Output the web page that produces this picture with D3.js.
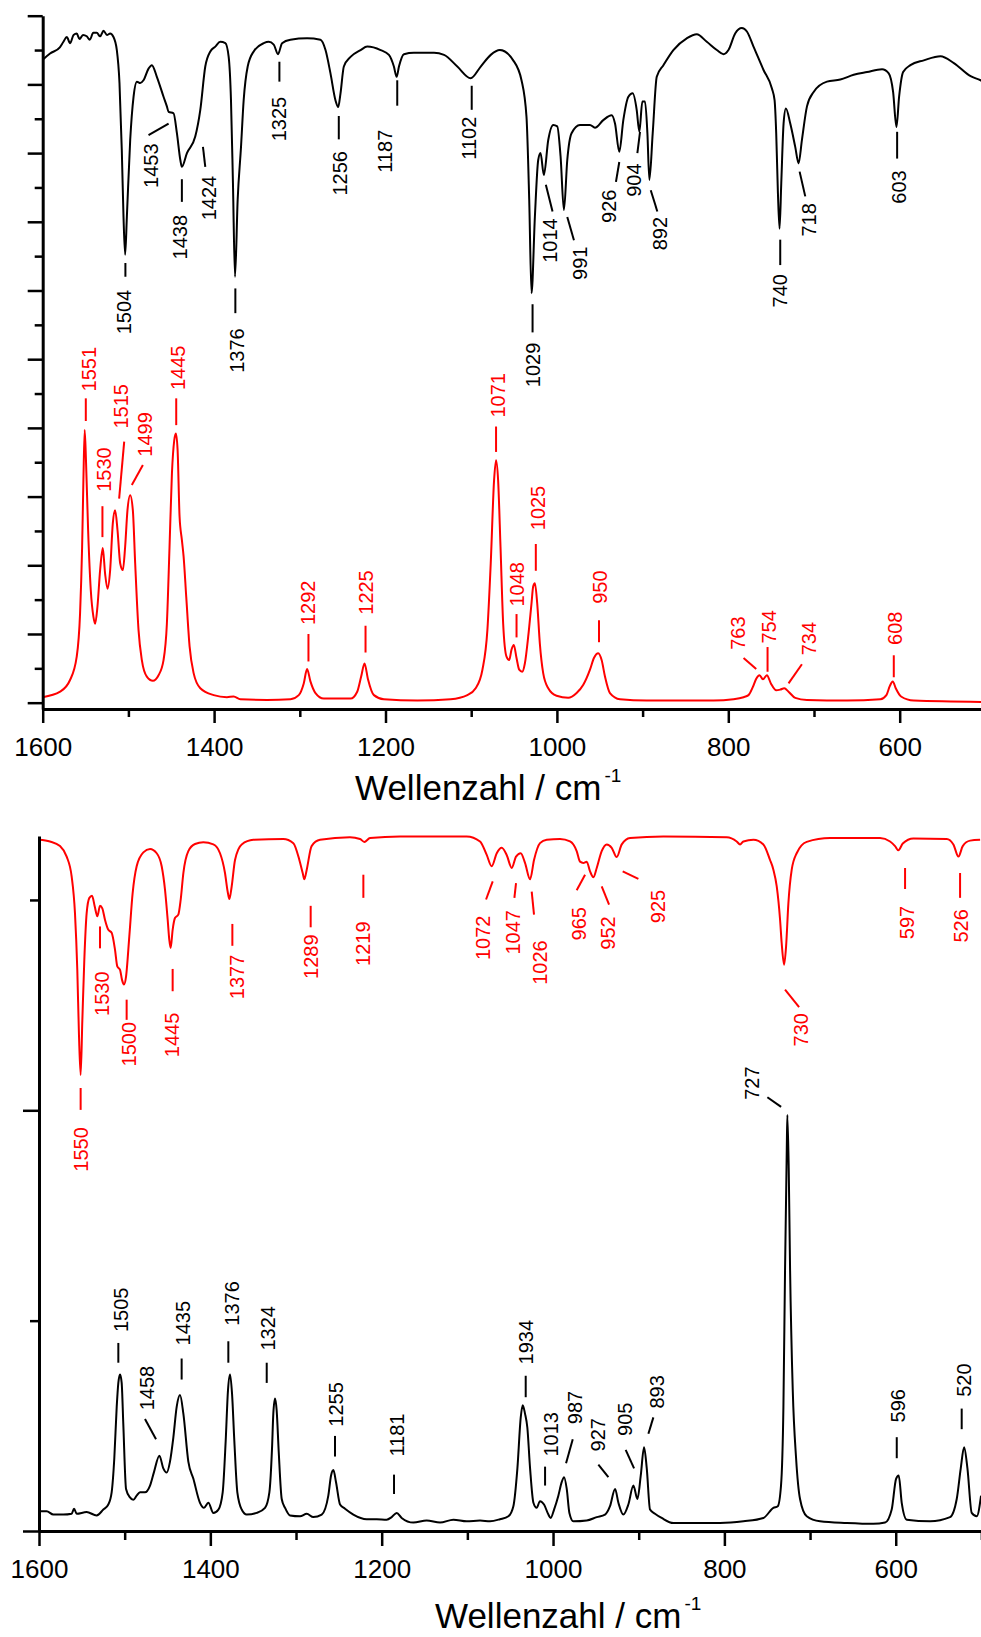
<!DOCTYPE html>
<html><head><meta charset="utf-8">
<script src="https://cdn.jsdelivr.net/npm/d3@7"></script>
<style>
html,body{margin:0;padding:0;background:#fff;}
svg{display:block;font-family:"Liberation Sans",Arial,Helvetica,sans-serif;}
</style></head><body>
<svg id="chart" width="981" height="1637"></svg>
<script>
// ---------------- DATA ----------------
const xTicksMajor = [1600, 1400, 1200, 1000, 800, 600];
const xTicksMinor = [1500, 1300, 1100, 900, 700, 500];
const xTitle = "Wellenzahl / cm";
const xTitleSup = "-1";
const topYMajor = [0,10,20,30,40,50,60,70,80,90,100];
const topYMinor = [5,15,25,35,45,55,65,75,85,95];
const botYMajor = [0,100];
const botYMinor = [50,150];

// top panel, experimental IR (black) [wavenumber, intensity]
const topIR = [[1600,93.6],[1591.4,94.5],[1580,95.4],[1575.8,96.2],[1571.9,96.9],[1568,96.0],[1564,97.2],[1560.3,97.4],[1557,96.6],[1553,97.2],[1548.6,97.0],[1545,96.5],[1541,97.5],[1536.9,97.5],[1533,97.0],[1529,97.8],[1525,97.2],[1521.3,97.4],[1517.4,96.9],[1513.5,95.0],[1510.4,90.2],[1507.7,80.4],[1505.7,70.7],[1503.8,65.2],[1501.8,70.7],[1497.9,81.9],[1494,88.2],[1490.1,90.4],[1486.2,90.2],[1482.4,90.6],[1476.5,92.3],[1472.6,92.8],[1466.8,91.1],[1459,88.2],[1455.1,86.8],[1453.1,86.0],[1447.3,85.8],[1443.4,82.9],[1439.4,79.0],[1437.6,78.0],[1431.7,80.0],[1422,82.4],[1416.1,86.3],[1410.3,92.6],[1404.4,94.8],[1398.6,95.5],[1392.8,96.2],[1386.9,96.0],[1383,94.0],[1380.3,87.7],[1378,75.6],[1375.6,62.0],[1372.5,73.2],[1368.6,80.9],[1365.5,87.7],[1360.8,92.6],[1353.8,94.8],[1342.1,96.0],[1336.3,96.2],[1330.4,95.8],[1325.4,94.4],[1320.7,96.0],[1311,96.5],[1291.5,96.7],[1275.9,96.5],[1270,95.0],[1264.2,91.6],[1258.4,87.7],[1255.2,86.7],[1252.5,88.7],[1248.6,92.6],[1240.8,94.0],[1229.1,95.0],[1221.3,95.5],[1205.7,95.0],[1196,94.3],[1190.2,92.6],[1187,91.1],[1184.3,92.6],[1178.5,94.4],[1166.8,94.6],[1143.4,94.6],[1131.7,94.3],[1116.2,92.6],[1100.6,90.9],[1088.9,92.6],[1077.2,94.3],[1066.6,95.0],[1051,93.5],[1041.3,90.6],[1035.5,85.3],[1032.3,73.2],[1029.6,59.6],[1025.7,70.7],[1021.8,79.0],[1019.1,80.0],[1015.2,76.8],[1010.1,81.9],[1004.3,84.1],[999.6,83.9],[995.7,79.5],[991.8,71.7],[987.9,79.0],[982.9,82.9],[973.1,84.1],[961.4,84.1],[955.6,83.7],[945.9,84.8],[936.1,85.5],[932.2,84.3],[927.2,80.2],[922.5,84.8],[916.6,88.2],[911.6,88.7],[906.9,86.3],[903.8,83.1],[900.3,87.5],[897.2,87.5],[894.4,82.9],[892.1,76.1],[888.2,82.9],[883.5,91.1],[875.7,92.8],[864.1,95.0],[848.5,96.7],[836.8,97.3],[825.1,96.2],[813.4,95.0],[805.6,94.4],[799.8,95.0],[792,97.4],[784.2,98.2],[778.3,97.7],[770.6,95.5],[758.9,92.1],[749.1,89.4],[746,87.7],[744.1,82.9],[742.1,74.2],[740.2,69.0],[738.2,75.6],[735.5,84.3],[732.8,86.5],[727.7,84.3],[721.9,80.9],[718,78.5],[714.1,81.9],[708.2,86.8],[700.4,88.9],[684.9,90.4],[669.3,90.7],[653.7,91.4],[638.1,91.8],[620.6,92.2],[612.8,91.6],[607.7,88.9],[603.8,83.8],[600.7,88.2],[596,91.8],[587.5,92.8],[571.9,93.5],[552.4,94.1],[536.8,93.1],[517.3,91.2],[505.6,90.6],[500,90.2]];

// top panel, calculated IR (red)
const topCalc = [[1600,0.8],[1579.7,1.6],[1568.1,3.3],[1560.3,6.7],[1556.4,13.0],[1554,22.7],[1552.5,32.4],[1551,39.7],[1549.4,34.9],[1547,25.1],[1543.9,16.4],[1540.8,12.5],[1538.8,11.5],[1536.1,14.0],[1533,19.3],[1529.9,22.5],[1527.2,18.8],[1524.4,16.6],[1521.3,19.3],[1518.2,26.1],[1515.5,28.0],[1512.7,25.1],[1509.6,20.3],[1506.5,19.3],[1503.8,22.7],[1501.1,28.0],[1497.9,30.2],[1494.8,28.0],[1492.1,20.3],[1488.2,10.6],[1484.3,6.2],[1478.5,3.8],[1471.4,3.2],[1464.8,4.0],[1459,6.2],[1455.1,11.5],[1452,22.7],[1449.2,33.4],[1446.5,38.2],[1444.6,39.2],[1442.6,36.8],[1440.3,27.1],[1437.6,23.7],[1435.6,21.3],[1432.5,15.4],[1428.6,8.2],[1423.9,4.3],[1416.1,2.1],[1400.5,1.1],[1385,0.8],[1377.2,0.9],[1369.4,0.5],[1338.2,0.4],[1310.9,0.5],[1301.2,1.1],[1295.4,2.8],[1291.5,4.9],[1287.6,3.1],[1281.7,1.4],[1272,0.6],[1240.8,0.6],[1233,1.6],[1228.4,3.8],[1224.5,5.7],[1220.6,3.5],[1213.5,1.1],[1201.9,0.5],[1162.9,0.3],[1124,0.5],[1104.5,1.1],[1094.8,2.1],[1086.9,4.8],[1081.1,10.6],[1077.2,20.3],[1073.3,32.4],[1071,35.3],[1068.6,32.4],[1065.8,22.7],[1062.7,11.5],[1058.8,6.7],[1055.7,6.2],[1053,7.7],[1050.3,8.4],[1047.1,6.5],[1044,4.8],[1040.5,4.5],[1037.4,5.7],[1033.5,9.6],[1029.6,14.5],[1027.7,16.9],[1025.7,17.4],[1023,14.5],[1019.9,8.6],[1016,4.3],[1010.1,2.1],[1000.4,1.0],[986.8,0.7],[977,1.4],[969.2,2.6],[961.4,4.8],[956.8,6.5],[951.7,7.2],[947.8,6.2],[943.9,3.8],[938.1,1.4],[926.4,0.5],[895.2,0.3],[817.3,0.3],[793.9,0.5],[782.2,0.8],[776.4,1.1],[771.3,2.3],[767.4,3.5],[763.5,4.0],[759.6,3.4],[755,4.0],[750.3,2.8],[744.1,1.8],[739.4,1.9],[734.7,2.1],[729.7,1.6],[721.9,0.7],[708.2,0.4],[661.5,0.3],[622.5,0.5],[615.5,1.1],[611.6,2.4],[608.1,3.1],[604.6,2.1],[598.4,0.9],[583.6,0.3],[500,0.1]];

// bottom panel, calculated (red, inverted)
const botCalc = [[1600,164.3],[1587.2,163.9],[1575.5,162.8],[1567.7,160.3],[1561.9,155.6],[1558,146.8],[1555.3,133.4],[1553.3,117.6],[1551.4,108.4],[1549.4,121.5],[1547.1,135.8],[1544.4,146.8],[1541.2,150.5],[1538.1,151.0],[1535,148.5],[1531.9,146.1],[1528.8,148.6],[1526.1,148.0],[1523,145.3],[1519.1,142.9],[1515.2,142.2],[1511.3,138.2],[1508.6,134.2],[1505.4,133.4],[1503.1,131.0],[1500.8,129.9],[1498.4,131.8],[1494.6,141.3],[1490.7,151.6],[1486,158.0],[1478.2,161.3],[1470.4,162.1],[1462.6,161.1],[1456.8,158.0],[1452.9,152.4],[1449.8,145.3],[1447.9,140.5],[1446.3,138.6],[1444,142.9],[1441.3,145.7],[1437.4,146.5],[1434.6,150.1],[1431.5,156.4],[1425.7,161.6],[1417.9,163.3],[1408.2,163.7],[1396.5,163.2],[1388.7,161.1],[1382.9,156.4],[1379.8,152.0],[1377.8,150.2],[1375.1,153.2],[1371.2,159.5],[1363.4,163.2],[1349.8,164.3],[1314.8,164.5],[1303.1,163.5],[1296.1,159.5],[1292.2,156.4],[1290.3,154.9],[1287.5,157.2],[1281.8,162.8],[1272,164.3],[1237,164.9],[1225.3,164.5],[1220.3,163.8],[1213.6,164.7],[1178.6,165.1],[1100.8,165.1],[1085.2,163.9],[1077.4,160.7],[1071.6,158.0],[1065.7,161.1],[1059.9,162.4],[1054.1,160.7],[1048.2,157.6],[1043.2,160.3],[1037.7,161.1],[1032.7,158.8],[1026.8,154.9],[1022.2,159.5],[1015.2,163.5],[1007.4,164.3],[991.8,164.5],[980.1,163.9],[972.4,161.6],[968.5,159.1],[964.6,158.8],[960.7,159.1],[956.8,156.8],[952.9,155.4],[949,157.6],[943.2,161.6],[937.3,163.2],[931.5,162.4],[925.7,160.2],[919.8,163.2],[910.1,164.7],[871.2,165.1],[797.3,164.9],[785.6,163.9],[781.7,163.2],[777.8,163.9],[766.1,164.3],[754.5,163.2],[746.7,159.5],[742.8,157.2],[738.9,153.2],[735,145.3],[733.1,139.7],[730.3,134.6],[728,138.9],[725.3,149.2],[721.4,157.2],[715.6,161.1],[703.9,163.8],[676.6,164.7],[618.3,164.7],[606.6,163.9],[600.8,162.8],[596.9,161.8],[591.8,163.4],[579.4,164.6],[540.5,164.5],[532.7,163.2],[526.8,160.3],[521.8,162.8],[513.2,164.1],[501.5,164.3]];

// bottom panel, experimental Raman (black)
const botRaman = [[1600,4.7],[1591.1,4.7],[1583.3,3.9],[1571.6,3.9],[1561.9,4.1],[1559.1,5.3],[1556,4.1],[1544.4,4.5],[1532.7,3.7],[1524.9,5.1],[1519.1,6.3],[1515.2,9.2],[1512.1,17.3],[1509.3,29.5],[1507.4,35.2],[1505.4,37.2],[1503.5,35.2],[1501.6,25.4],[1498.4,10.0],[1493.8,8.0],[1489.9,7.4],[1486,8.4],[1482.1,9.2],[1476.3,9.2],[1470.4,10.8],[1465.8,14.0],[1459.5,17.9],[1454.9,14.9],[1451,13.9],[1447.1,16.5],[1443.2,22.2],[1439.3,29.5],[1435.4,32.3],[1431.5,27.9],[1425.7,16.5],[1419.8,12.4],[1412.1,6.7],[1407.4,5.5],[1402.3,6.7],[1396.5,4.3],[1390.6,5.1],[1385.6,9.2],[1382.1,21.4],[1379.4,33.5],[1377,37.2],[1374.7,32.7],[1372,21.4],[1368.5,9.2],[1363.4,5.1],[1357.6,3.9],[1345.9,4.3],[1336.2,5.5],[1331.1,9.2],[1328,19.7],[1326.5,27.9],[1324.5,31.5],[1322.6,28.7],[1320.2,18.9],[1316.7,7.6],[1312.8,5.5],[1307,3.7],[1295.3,3.5],[1287.5,4.1],[1279.8,3.3],[1270,3.9],[1262.3,8.4],[1259.1,13.2],[1256.4,14.5],[1253.3,11.6],[1248.6,6.3],[1242.8,5.3],[1233.1,3.9],[1217.5,2.8],[1205.8,2.8],[1194.2,2.7],[1188.3,3.3],[1182.5,4.3],[1176.7,3.1],[1163,2.0],[1147.5,2.5],[1131.9,2.0],[1116.3,2.7],[1100.8,2.3],[1085.2,2.5],[1073.5,2.3],[1061.9,2.8],[1052.1,3.5],[1046.3,5.9],[1041.6,14.9],[1037.7,27.0],[1035.4,29.9],[1032.7,27.9],[1030,24.6],[1026.8,14.9],[1022.9,6.7],[1019.1,5.5],[1015.2,7.1],[1010.5,6.3],[1005.4,3.9],[1002.7,3.1],[998.8,5.1],[993.8,8.4],[989.9,11.6],[987.1,12.8],[984,10.0],[980.9,4.3],[976.3,2.3],[960.7,2.5],[949,3.3],[939.3,3.9],[933.5,5.9],[927.6,10.0],[923.7,6.7],[917.9,3.9],[912.1,6.3],[906.2,10.8],[901.5,7.6],[897.6,13.2],[893.8,19.9],[890.6,14.9],[886.8,5.1],[881,4.1],[873.2,3.1],[859.5,1.9],[832.3,1.9],[805,1.9],[777.8,2.3],[754.5,3.1],[742.8,5.5],[737.7,5.9],[733.9,10.8],[731.1,29.5],[729.2,62.0],[727.2,90.4],[726.5,98.9],[724.9,86.3],[723.3,62.0],[720.2,33.5],[716.3,17.3],[711.7,7.6],[703.9,3.5],[688.3,2.3],[657.2,1.9],[626.1,1.7],[612.4,2.0],[604.7,5.1],[599.6,12.4],[596.5,13.2],[593,6.7],[587.1,2.7],[559.9,2.3],[536.6,3.3],[528.8,7.6],[524.1,14.9],[520.2,19.9],[516.3,14.9],[511.3,4.3],[505.4,3.5],[500.4,8.4]];

// peak annotations: [label, textWn, textValue, lineWn1, lineVal1, lineWn2, lineVal2]
const topIRLabels = [
 ["1504",1505,60.1,1503.5,64.0,1503.5,62.0],["1453",1473.8,81.4,1453.1,84.3,1476.5,82.6],
 ["1438",1439.5,71.0,1437.6,76.2,1437.6,72.9],["1424",1405.6,76.7,1413,80.9,1410.3,78.0],
 ["1376",1373.3,54.5,1375.2,60.3,1375.2,56.7],["1325",1324.6,88.2,1323.8,93.3,1323.8,90.4],
 ["1256",1253.3,80.3,1254.5,85.4,1254.5,82.0],["1187",1201.1,83.4,1186.3,90.6,1186.3,86.9],
 ["1102",1102.5,85.3,1099.4,89.8,1099.4,86.3],["1029",1027.7,52.4,1028.4,58.0,1028.4,53.9],
 ["1014",1008.2,70.5,1012.9,75.4,1005.1,71.5],["991",973.1,66.4,987.9,70.7,980.1,67.3],
 ["926",938.9,74.7,927.2,78.7,931.1,75.8],["904",910.0,78.5,903.0,83.1,906.1,80.0],
 ["892",879.6,70.7,890.5,74.6,882.8,71.5],["740",740.2,62.4,739.4,67.4,739.4,63.7],
 ["718",706.3,72.7,716.8,77.3,710.2,73.7],["603",601.1,77.5,603.0,83.1,603.0,79.2]];
const topCalcLabels = [
 ["1551",1545.5,45.3,1549.7,44.3,1549.7,41.0],["1530",1527.9,30.7,1530.3,28.6,1530.3,24.1],
 ["1515",1508.8,39.9,1510.8,29.7,1504.9,38.0],["1499",1480.4,35.8,1496.0,31.7,1483.1,34.6],
 ["1445",1442.2,45.5,1444.2,44.3,1444.2,40.4],["1292",1290.7,11.3,1289.9,10.0,1289.9,6.0],
 ["1225",1223.3,12.8,1223.3,11.2,1223.3,7.3],["1071",1068.6,41.5,1071.0,40.2,1071.0,36.5],
 ["1048",1047.1,14.0,1047.1,12.9,1047.1,9.5],["1025",1021.8,25.1,1024.6,23.1,1024.6,19.2],
 ["950",949.8,14.4,950.9,12.0,950.9,8.8],["763",788.9,7.7,767.4,4.9,782.2,6.5],
 ["754",753.0,8.6,754.2,8.1,754.2,4.5],["734",706.3,6.9,729.7,2.8,714.1,5.6],
 ["608",605.0,8.4,606.9,6.9,606.9,3.7]];
const botCalcLabels = [
 ["1550",1551.4,96.0,1551.4,105.3,1551.4,100.1],["1530",1526.8,133.0,1528.8,143.7,1528.8,138.5],
 ["1500",1494.5,121.0,1497.7,126.3,1497.7,121.5],["1445",1445.1,123.2,1444.0,133.6,1444.0,128.3],
 ["1377",1368.5,137.0,1374.3,144.3,1374.3,139.1],["1289",1282.9,141.8,1282.9,148.6,1282.9,143.5],
 ["1219",1222.2,144.9,1221.4,156.0,1221.4,150.5],["1072",1082.1,146.3,1070.4,154.4,1078.2,150.1],
 ["1047",1046.3,147.6,1043.2,154.0,1045.1,150.5],["1026",1015.2,140.4,1024.9,152.0,1022.2,146.5],
 ["965",969.6,148.3,962.6,156.0,972.4,152.3],["952",936.2,146.1,943.2,153.2,934.6,148.9],
 ["925",877.8,152.4,918.7,156.8,900.4,155.0],["730",710.9,123.1,729.2,128.7,712.8,124.5],
 ["597",587.1,148.6,589.1,157.6,589.1,152.6],["526",523.7,147.8,524.9,156.4,524.9,150.5]];
const botRamanLabels = [
 ["1505",1504.7,47.3,1507.4,44.7,1507.4,40.0],["1458",1474.3,28.7,1463.4,21.8,1476.3,26.6],
 ["1435",1431.5,44.1,1433.5,41.0,1433.5,36.0],["1376",1375.1,48.8,1379.0,45.1,1379.0,40.0],
 ["1324",1332.3,42.9,1334.2,40.0,1334.2,35.2],["1255",1253.3,24.8,1254.5,22.6,1254.5,17.7],
 ["1181",1181.7,17.7,1185.6,13.4,1185.6,8.8],["1934",1031.9,39.6,1031.9,36.9,1031.9,31.8],
 ["1013",1002.7,17.7,1009.3,15.3,1009.3,10.8],["987",974.3,25.4,984.8,16.1,977.0,21.8],
 ["927",947.1,18.9,935.4,12.8,947.1,15.8],["905",915.9,22.6,905.4,14.9,915.2,19.3],
 ["893",879.0,29.1,888.7,23.1,882.9,27.0],["727",768.1,102.5,733.8,100.8,749.8,103.1],
 ["596",596.9,25.8,598.8,22.3,598.8,17.3],["520",520.2,31.9,523.0,29.1,523.0,24.2]];

// ---------------- DRAW ----------------
const RED = "#ff0000";
const svg = d3.select("#chart");
svg.append("rect").attr("width",981).attr("height",1637).attr("fill","#fff");

function panel(cfg) {
  const g = svg.append("g");
  const x = d3.scaleLinear().domain([1600, 500]).range(cfg.xRange);
  const y = d3.scaleLinear().domain(cfg.yDomain).range(cfg.yRange);
  const line = d3.line().x(d => x(d[0])).y(d => y(d[1])).curve(d3.curveMonotoneX);

  cfg.series.forEach(s => {
    g.append("path").datum(s.data).attr("d", line)
      .attr("fill","none").attr("stroke", s.color).attr("stroke-width", 2)
      .attr("stroke-linejoin","round");
  });

  cfg.labels.forEach(L => {
    const lg = g.append("g");
    lg.selectAll("line").data(L.data).join("line")
      .attr("x1", d => x(d[3])).attr("y1", d => y(d[4]))
      .attr("x2", d => x(d[5])).attr("y2", d => y(d[6]))
      .attr("stroke", L.color).attr("stroke-width", 2);
    lg.selectAll("text").data(L.data).join("text")
      .attr("transform", d => `translate(${x(d[1])},${y(d[2])}) rotate(-90)`)
      .attr("text-anchor", L.anchor).attr("dy","0.35em")
      .attr("font-size", 20).attr("fill", L.color).text(d => d[0]);
  });

  // axes
  const ax = g.append("g").attr("transform", `translate(0,${cfg.yRange[0]})`);
  ax.call(d3.axisBottom(x).tickValues(xTicksMajor).tickSize(cfg.xMajor).tickSizeOuter(0)
      .tickPadding(47 - cfg.xMajor - 18.5).tickFormat(d3.format("d")));
  ax.append("g").call(d3.axisBottom(x).tickValues(xTicksMinor).tickSize(cfg.xMinor).tickSizeOuter(0).tickFormat(""))
    .select(".domain").remove();
  const ay = g.append("g").attr("transform", `translate(${cfg.xRange[0]},0)`);
  ay.call(d3.axisLeft(y).tickValues(cfg.yMajor).tickSize(cfg.yMajorSize).tickSizeOuter(0).tickFormat(""));
  ay.append("g").call(d3.axisLeft(y).tickValues(cfg.yMinor).tickSize(cfg.yMinorSize).tickSizeOuter(0).tickFormat(""))
    .select(".domain").remove();
  g.selectAll(".domain").attr("stroke","#000").attr("stroke-width",3);
  g.selectAll(".tick line").attr("stroke","#000").attr("stroke-width",2.5);
  ax.selectAll(".tick text").attr("font-size",26).attr("fill","#000")
    .attr("font-family",'"Liberation Sans",Arial,sans-serif');

  const t = g.append("text").attr("x", cfg.titleX).attr("y", cfg.titleY)
    .attr("font-size", 35).attr("fill","#000");
  t.append("tspan").text(xTitle);
  t.append("tspan").attr("font-size", 19).attr("dx", 3).attr("dy", -18).text(xTitleSup);
}

panel({
  xRange:[42.7, 985.4], yDomain:[-0.92, 100], yRange:[709, 15.7],
  yMajor: topYMajor, yMinor: topYMinor, yMajorSize:15, yMinorSize:8,
  xMajor:14, xMinor:8, titleX:355, titleY:800,
  series:[{data: topIR, color:"#000"}, {data: topCalc, color: RED}],
  labels:[{data: topIRLabels, color:"#000", anchor:"end"},
          {data: topCalcLabels, color: RED, anchor:"start"}]
});
panel({
  xRange:[39, 981.4], yDomain:[0, 165.2], yRange:[1531, 836],
  yMajor: botYMajor, yMinor: botYMinor, yMajorSize:16, yMinorSize:9,
  xMajor:15, xMinor:9, titleX:435, titleY:1628,
  series:[{data: botCalc, color: RED}, {data: botRaman, color:"#000"}],
  labels:[{data: botCalcLabels, color: RED, anchor:"end"},
          {data: botRamanLabels, color:"#000", anchor:"start"}]
});
</script>
</body></html>
